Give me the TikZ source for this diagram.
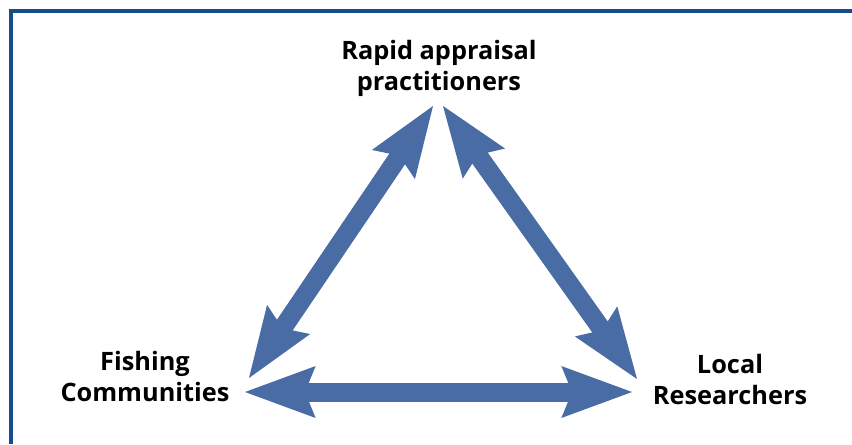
\documentclass[tikz,border=0pt]{standalone}
\usepackage{fontspec}
\setmainfont{Open Sans}
\usetikzlibrary{arrows.meta}
\definecolor{frameblue}{RGB}{22,76,140}
\definecolor{arrowblue}{RGB}{74,108,165}
\tikzset{
    link/.style={arrowblue, line width=14.25pt, {Stealth[length=53pt,width=39pt,inset=8pt,line width=0pt]}-{Stealth[length=53pt,width=39pt,inset=8pt,line width=0pt]}},
    party/.style={align=center, inner sep=0pt, font=\fontsize{19}{23}\selectfont\bfseries},
}

\begin{document}
\begin{tikzpicture}[x=0.75pt,y=-0.75pt]
	\useasboundingbox (0,0) rectangle (852,444);
	\draw[frameblue, line width=2.5pt] (11,444) -- (11,11) -- (852,11);

	% anchor=base sits on the last line
	\node[party,anchor=base] (rap) at (439,90) {Rapid appraisal\\practitioners};
	\node[party,anchor=base] (fish) at (145,401) {Fishing\\Communities};
	\node[party,anchor=base] (loc) at (730,404) {Local\\Researchers};

	\coordinate (rap-l) at (433,106);
	\coordinate (rap-r) at (443,106);
	\coordinate (fish-u) at (249,378);
	\coordinate (fish-r) at (245,392);
	\coordinate (loc-u) at (637,379);
	\coordinate (loc-l) at (632,392);

	\draw[link] (fish-u) -- (rap-l);
	\draw[link] (rap-r) -- (loc-u);
	\draw[link] (fish-r) -- (loc-l);
\end{tikzpicture}
\end{document}
